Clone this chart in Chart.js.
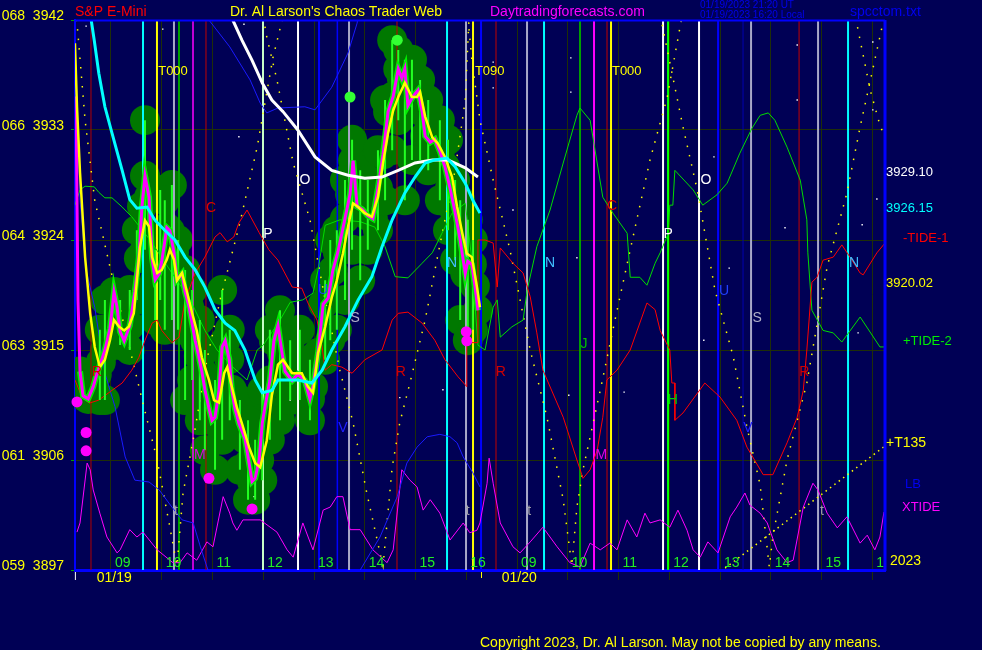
<!DOCTYPE html>
<html>
<head>
<meta charset="utf-8">
<title>S&amp;P E-Mini - Chaos Trader Web</title>
<script src="https://cdn.jsdelivr.net/npm/chart.js@4.4.1/dist/chart.umd.min.js"></script>
<style>
  html, body { margin: 0; padding: 0; background: #000055; }
  canvas { display: block; }
</style>
</head>
<body>
<canvas id="chart" width="982" height="650"></canvas>
<script>
// x values are session hours counted from 09:00 on 01/19 (8 = 09:00 on 01/20)
const hourLabels = ['09','10','11','12','13','14','15','16','09','10','11','12','13','14','15','16'];
const yTicks = [3897, 3906, 3915, 3924, 3933, 3942];
const yTicksAlt = ['059', '061', '063', '064', '066', '068'];

// raw E-mini price (5 min closes)
const closeSeries = [
  [-0.69,3935.75],[-0.67,3927.25],[-0.65,3919],[-0.61,3913.25],[-0.55,3911.25],[-0.45,3911],[-0.35,3912],[-0.28,3913],
  [-0.2,3914],[-0.12,3915],[-0.02,3916.75],[0.06,3919.75],[0.12,3918.5],[0.18,3916.5],[0.26,3915.75],[0.37,3917],
  [0.47,3919.75],[0.55,3922.5],[0.61,3926.75],[0.67,3929.25],[0.75,3927.5],[0.81,3922.5],[0.87,3920.75],[0.95,3921.25],
  [1.0,3922.25],[1.1,3925],[1.16,3924.75],[1.24,3923],[1.3,3920.75],[1.4,3921.25],[1.46,3919.75],[1.54,3918.5],
  [1.66,3915.75],[1.73,3914.5],[1.79,3913.25],[1.85,3911.75],[1.93,3910.25],[1.99,3909.25],[2.05,3909.5],[2.13,3911.75],
  [2.19,3915.25],[2.25,3915.75],[2.33,3914.25],[2.38,3911.75],[2.44,3910.25],[2.52,3909],[2.64,3907.75],[2.72,3905.75],
  [2.78,3904.25],[2.84,3904.5],[2.92,3906],[2.98,3909],[3.03,3910.25],[3.13,3912.5],[3.21,3915.75],[3.29,3917],
  [3.37,3914.75],[3.43,3913.25],[3.57,3912.5],[3.68,3913],[3.82,3912.5],[3.92,3911],[3.98,3912],[4.08,3914.75],
  [4.18,3918.75],[4.28,3919.25],[4.37,3921.5],[4.47,3923],[4.61,3925.75],[4.71,3927.75],[4.77,3930.5],[4.85,3926.75],
  [4.95,3926.5],[5.06,3926],[5.16,3925.75],[5.26,3928.25],[5.36,3931],[5.46,3934.5],[5.56,3935.75],[5.66,3938],
  [5.73,3937.25],[5.79,3938],[5.85,3935],[5.95,3935.75],[6.05,3936.25],[6.13,3934.5],[6.19,3932.5],[6.29,3932],
  [6.38,3932.25],[6.48,3931.25],[6.58,3930],[6.68,3928.25],[6.78,3926.25],[6.88,3924],[6.98,3921.25],[7.03,3922.25],
  [7.11,3922],[7.17,3920.25],[7.23,3918.25]
];

// bar ranges [time, low, high]
const barRanges = [
  [-0.22,3910.9,3916.65],[0.18,3915.4,3919.1],[0.51,3919.1,3924.8],[0.67,3923.2,3933.8],[0.97,3919.1,3928.1],
  [1.2,3917.45,3928.5],[1.46,3910.9,3921.55],[1.75,3909.25,3917.45],[2.19,3907.65,3919.9],[2.54,3905.2,3910.9],
  [2.84,3902.75,3907.65],[3.13,3907.65,3916.65],[3.72,3910.9,3916.65],[4.32,3915.8,3924],[4.61,3919.1,3928.9],
  [4.91,3920.7,3929.7],[5.4,3927.25,3935.45],[5.54,3931.35,3940.35],[5.79,3927.25,3938.75],[6.09,3930.55,3937.1],
  [6.48,3927.25,3933.8],[6.88,3917.45,3927.25],[7.13,3916.65,3924],
  [-0.12,3910.9,3919.1],[0.37,3915,3919.9],[0.87,3917.45,3923.2],[1.06,3916.65,3927.25],[1.32,3916.65,3924],
  [1.6,3912.55,3919.9],[1.85,3906.8,3915],[2.05,3905.2,3912.55],[2.34,3909.25,3916.65],[2.7,3902.75,3909.25],
  [2.98,3904.35,3911.7],[3.33,3909.25,3918.25],[3.53,3910.9,3915.8],[3.92,3909.25,3914.2],[4.22,3914.2,3920.7],
  [4.45,3916.65,3924.8],[4.75,3923.2,3932.2],[5.06,3923.2,3928.9],[5.26,3924.8,3931.35],[5.66,3933.8,3939.55],
  [5.93,3930.55,3938.75],[6.25,3929.7,3935.45],[6.64,3924.8,3932.2],[6.78,3922.35,3928.9],[7.03,3915.8,3925.65]
];

const fastAvg = [
  [-0.71,3940.1],[-0.67,3934.9],[-0.61,3929.5],[-0.51,3922.6],[-0.41,3918],[-0.32,3915.25],[-0.22,3913.6],[-0.12,3914.2],
  [-0.02,3915.8],[0.06,3917.45],[0.16,3916.9],[0.26,3916.6],[0.35,3916.9],[0.45,3918],[0.51,3920.7],[0.57,3923.4],
  [0.67,3925.6],[0.75,3925.1],[0.81,3922.6],[0.91,3921.3],[1.0,3921.55],[1.1,3922.4],[1.16,3923.2],[1.24,3922.4],
  [1.3,3920.7],[1.4,3921.3],[1.5,3919.7],[1.6,3918],[1.69,3916.6],[1.79,3914.4],[1.93,3912.55],[2.03,3910.9],
  [2.13,3910.7],[2.23,3913.1],[2.29,3913.6],[2.38,3912],[2.48,3910.3],[2.58,3909],[2.72,3907.05],[2.84,3905.75],
  [2.94,3905.4],[3.07,3907.6],[3.17,3911.3],[3.29,3913.8],[3.39,3914.2],[3.57,3913.1],[3.76,3913.1],[3.88,3912],
  [3.98,3911.5],[4.08,3914.75],[4.22,3916.9],[4.35,3919.3],[4.45,3920.7],[4.57,3922.9],[4.67,3925.1],[4.77,3927],
  [4.87,3926.7],[5.0,3926.2],[5.14,3925.9],[5.26,3927.5],[5.36,3930.3],[5.46,3932.75],[5.56,3934.6],[5.66,3935.7],
  [5.79,3936.85],[5.93,3935.7],[6.03,3935.7],[6.09,3936.1],[6.19,3934.1],[6.33,3932.4],[6.44,3931.9],[6.58,3930.8],
  [6.72,3929.15],[6.82,3926.7],[6.92,3924.6],[7.01,3922.9],[7.11,3922.6],[7.21,3920.15],[7.27,3918.5]
];

const midAvg = [
  [-0.39,3942],[-0.33,3940.35],[-0.24,3937.65],[-0.12,3934.9],[0.02,3932.75],[0.22,3929.7],[0.37,3927.3],[0.51,3926.6],
  [0.71,3926.7],[0.87,3925.6],[1.06,3924.8],[1.26,3924],[1.46,3922.6],[1.66,3921.55],[1.85,3920.15],[2.05,3918.3],
  [2.25,3917.2],[2.44,3916.6],[2.64,3915],[2.84,3912.55],[2.98,3911.5],[3.17,3911.7],[3.29,3912.55],[3.68,3912.55],
  [3.96,3912.3],[4.16,3913.35],[4.35,3915],[4.61,3916.9],[4.87,3919.1],[5.14,3921],[5.34,3923.45],[5.54,3925.65],
  [5.79,3927.85],[5.99,3929.15],[6.19,3930.3],[6.38,3930.55],[6.62,3930.7],[6.78,3930],[6.98,3928.65],[7.13,3927.25],
  [7.27,3926.2]
];

const slowAvg = [
  [2.31,3942.8],[2.4,3942],[2.58,3940.35],[2.78,3938.7],[2.98,3936.85],[3.17,3935.45],[3.39,3934.5],[3.68,3933],
  [4.02,3930.8],[4.35,3929.7],[4.67,3929.3],[5.0,3929.05],[5.34,3929.15],[5.66,3929.7],[5.99,3930.3],[6.33,3930.55],
  [6.64,3930.55],[6.98,3929.9],[7.23,3929.15]
];

const lbLine = [
  [-0.67,3935.45],[-0.61,3927.25],[-0.49,3921.55],[-0.32,3918.5],[-0.12,3913.1],[0.08,3910.35],[0.28,3906.25],[0.47,3904.35],
  [0.75,3904.2],[0.95,3903.55],[1.2,3902.15],[1.4,3901.1],[1.62,3900.85],[1.75,3899.05],[1.91,3897],[1.95,3895.4],
  [1.95,null],
  [1.89,3943.6],[1.93,3942],[2.34,3939.8],[2.74,3937.1],[2.94,3935.2],[3.07,3934.4],[3.29,3934.8],[3.82,3934.9],
  [4.02,3934.65],[4.35,3936.5],[4.67,3939.3],[4.85,3941.75],[4.89,3943.2],
  [4.89,null],
  [4.89,3895.4],[4.91,3897],[5.3,3899.7],[5.64,3903],[5.83,3905.75],[6.03,3907.05],[6.23,3907.9],[6.48,3908.1],
  [6.68,3907.9],[6.82,3907.4],[6.94,3906.25],[7.13,3904.95],[7.27,3903.8]
];

const tide1 = [
  [-0.71,3912.55],[-0.57,3911.15],[-0.43,3910.65],[-0.24,3910.9],[0.02,3911.7],[0.22,3912.3],[0.41,3913.35],[0.55,3914.4],
  [0.67,3915.8],[0.81,3917.2],[0.91,3917.45],[1.0,3916.6],[1.2,3915.6],[1.34,3916.05],[1.46,3919.1],[1.66,3921.3],
  [1.85,3922.6],[2.05,3924.25],[2.15,3924.6],[2.29,3923.85],[2.42,3924.25],[2.52,3925.4],[2.68,3926.45],[2.92,3924.6],
  [3.11,3923.2],[3.29,3922.35],[3.57,3920.15],[3.76,3920.05],[3.88,3918.85],[4.06,3917.45],[4.16,3915.25],[4.22,3913.35],
  [4.35,3913.8],[4.55,3913.6],[4.75,3913.1],[5.0,3914.2],[5.34,3915],[5.54,3917.45],[5.66,3918],[5.85,3918.1],
  [6.13,3917.2],[6.38,3915.8],[6.58,3914.2],[6.84,3912.8],[6.98,3912.15],[7.01,3912],[7.01,3915.6],[7.23,3915.6],
  [7.23,3924],[7.37,3924],[7.53,3923.75],[7.61,3920.15],[7.67,3923.35],[7.92,3922.1],[8.12,3921.3],[8.26,3919.35],
  [8.39,3916.4],[8.51,3913.35],[8.91,3909.5],[9.18,3906],[9.3,3904.5],[9.44,3905.2],[9.58,3906.8],[9.69,3909.5],
  [9.77,3912.55],[9.97,3913.35],[10.23,3915],[10.56,3918.85],[10.72,3918.3],[10.82,3916.6],[11.01,3915],[11.05,3912.3],
  [11.11,3912.3],[11.11,3909.25],[11.27,3909.85],[11.7,3912.3],[12.0,3911.15],[12.33,3909.25],[12.53,3907.05],[12.85,3904.8],
  [13.04,3904.8],[13.32,3907.4],[13.52,3909.5],[13.64,3911.7],[13.71,3915],[13.81,3920.55],[13.91,3920.95],[14.03,3922.35],
  [14.23,3922.6],[14.4,3923.6],[14.56,3922.6],[14.76,3921.3],[14.82,3921.15],[15.09,3922.95],[15.25,3923.75]
];

const tide2 = [
  [-0.71,3926.85],[-0.61,3928.1],[-0.51,3928.4],[-0.33,3928.35],[-0.24,3927.9],[-0.12,3927.45],[0.02,3927.45],[0.22,3926.7],
  [0.41,3925.9],[0.77,3924],[1.16,3921.55],[1.56,3919.1],[1.85,3916.6],[2.09,3915],[2.4,3913.6],[2.68,3912.55],
  [2.88,3915],[3.0,3915.4],[3.33,3917.45],[3.53,3918.9],[3.78,3919.1],[3.98,3919.65],[4.08,3921.55],[4.22,3925.2],
  [4.51,3925.65],[4.91,3925.5],[5.2,3925.05],[5.4,3923.45],[5.6,3921],[5.85,3920.9],[6.13,3922.1],[6.33,3922.95],
  [6.52,3924.55],[6.72,3926.2],[6.98,3927],[7.11,3922.35],[7.23,3915.4],[7.37,3915],[7.53,3918.5],[7.61,3919.1],
  [7.67,3916.05],[7.9,3916.9],[8.12,3917.45],[8.2,3919.9],[8.39,3923.45],[8.65,3926.45],[8.91,3930.3],[9.18,3934.2],
  [9.24,3934.8],[9.44,3933.8],[9.69,3927.5],[9.89,3926.2],[10.17,3924.55],[10.23,3920.95],[10.42,3920.95],[10.56,3920.3],
  [10.72,3922.1],[10.82,3922.95],[10.98,3924.55],[11.01,3926.85],[11.07,3926.85],[11.11,3929.7],[11.47,3928.1],[11.66,3926.85],
  [11.94,3927.7],[12.14,3928.65],[12.39,3931.1],[12.63,3933.15],[12.79,3934.2],[12.95,3934.4],[13.08,3933.8],[13.32,3931.6],
  [13.58,3928.9],[13.71,3925.65],[13.73,3922.95],[13.81,3918.25],[14.03,3916.6],[14.23,3916.4],[14.4,3915.65],[14.76,3917.7],
  [15.15,3915.25],[15.25,3915.25]
];

const xtide = [
  [-0.67,3900.1],[-0.61,3900.85],[-0.47,3905.75],[-0.41,3905.2],[-0.35,3903.55],[-0.22,3901.65],[-0.08,3899.7],[0.12,3898.4],
  [0.18,3898.65],[0.37,3900.3],[0.51,3899.7],[0.63,3900.1],[0.91,3898.65],[1.22,3897.6],[1.36,3897.6],[1.5,3898.4],
  [1.69,3897.8],[1.89,3899.3],[2.01,3898.9],[2.21,3903],[2.34,3901.65],[2.4,3900.85],[2.48,3900.25],[2.6,3901.1],
  [2.94,3901.1],[3.27,3900.1],[3.47,3898.65],[3.59,3898.05],[3.78,3900.85],[3.98,3898.65],[4.18,3901.9],[4.32,3902.15],
  [4.45,3903],[4.57,3903],[4.71,3900.3],[4.91,3900.3],[5.16,3898.65],[5.44,3897.6],[5.56,3898.65],[5.73,3905.2],
  [5.89,3904.35],[6.03,3903.8],[6.15,3901.9],[6.29,3902.75],[6.48,3901.65],[6.68,3899.45],[6.94,3900.85],[7.07,3900.05],
  [7.21,3900.25],[7.27,3900.85],[7.41,3904.1],[7.45,3906.15],[7.53,3904.1],[7.67,3900.85],[7.92,3898.9],[8.06,3898.4],
  [8.26,3899.3],[8.51,3900.5],[8.79,3898.9],[9.04,3897.6],[9.24,3897.25],[9.44,3899.2],[9.64,3898.65],[9.83,3899.2],
  [9.97,3898.65],[10.17,3901.1],[10.36,3899.7],[10.52,3901.65],[10.62,3900.85],[10.82,3901.1],[11.01,3900.5],[11.17,3901.9],
  [11.35,3900.25],[11.47,3898.65],[11.61,3898.05],[11.76,3899.3],[11.96,3898.4],[12.2,3901.35],[12.33,3902.15],[12.49,3903.3],
  [12.59,3902.3],[12.79,3901.65],[12.93,3900.85],[13.12,3898.65],[13.32,3897.6],[13.44,3897.8],[13.64,3902.15],[13.83,3904.1],
  [13.93,3903.55],[14.11,3901.65],[14.31,3900.45],[14.5,3901.35],[14.76,3899.2],[14.9,3899.85],[15.05,3898.65],[15.15,3899.7],
  [15.23,3901.75]
];

// time/price arcs shown as dotted yellow
const arcDots = [
  [-0.69,3942.8],[-0.51,3933.8],[-0.32,3927.25],[-0.02,3921.8],[0.28,3916.65],[0.63,3910.65],[0.91,3906],[1.16,3900.5],[1.3,3897.35],
  [1.42,3903.3],[1.62,3907.65],[1.89,3914.2],[2.15,3919.1],[2.54,3925.4],[2.88,3931.6],[3.19,3938.9],[3.47,3943.65],
  [2.94,3943.65],[3.07,3940.6],[3.27,3937.1],[3.59,3930.3],[3.92,3925.65],[4.22,3919.1],[4.51,3913.35],[4.77,3909.05],[5.04,3903.3],[5.3,3898.4],[5.36,3897.35],
  [5.54,3905.4],[5.69,3909.05],[5.89,3912.3],[6.19,3917.45],[6.48,3923.6],[6.78,3929.7],[6.98,3935.45],[7.07,3943.65],
  [7.0,3943.65],[7.11,3938.75],[7.27,3933.8],[7.53,3928.9],[7.86,3923.2],[8.26,3915],[8.59,3909.5],[8.91,3902.75],[9.08,3897.35],
  [9.18,3902.15],[9.3,3905.2],[9.64,3911.7],[9.93,3917.45],[10.23,3923.2],[10.62,3930.55],[10.96,3935.7],[11.31,3943.65],
  [10.76,3943.65],[10.98,3939.15],[11.27,3933.25],[11.55,3928.1],[11.9,3919.9],[12.26,3914.45],[12.53,3908.7],[12.79,3903.95],[12.97,3897.25],
  [13.04,3899.7],[13.32,3906],[13.71,3912.3],[14.11,3921.8],[14.5,3927.85],[14.76,3933.25],[15.05,3938.75],[15.31,3943.65],
  [14.6,3943.65],[14.76,3940.35],[14.96,3936.25],[15.15,3933.4],[15.35,3931.35]
];

const t135 = [[12.1,3897.15],[15.25,3907.15]];

const sparseDots = [
  [-0.49,3941.5],[1.02,3941.25],[2.62,3941.65],[2.52,3932.45],[7.53,3938.55],[7.53,3936.45],[9.06,3938.9],[9.06,3936.1],
  [13.52,3939.95],[13.52,3935.45],[15.01,3940.2],[15.01,3934.65],[11.88,3930.8],[12.18,3921.7],[11.68,3915.8],[13.28,3925],
  [14.8,3925.25],[15.09,3927.35],[14.72,3916.4],[7.92,3926.45],[9.18,3922.55],[9.02,3911.3],[10.11,3911.55],[6.54,3911.75],
  [5.69,3911.1],[3.53,3910.9],[2.82,3903]
];

const turnDots = [[-0.67,3910.75],[-0.49,3908.25],[-0.49,3906.75],[1.93,3904.5],[2.78,3902],[7.0,3916.5],[7.01,3915.75]];
const highDots = [[4.71,3935.7],[5.64,3940.35]];

// timing lines [time, colour, width]
const timeLines = [
  [-0.394,'#b00000',1],[0.631,'#00ffff',2],[0.906,'#ffff00',2],[1.241,'#a8a8c8',2],[1.34,'#00a000',2],[1.616,'#ff00ff',1.5],
  [1.872,'#c00000',1],[2.995,'#c8ffc8',2],[3.685,'#ffffff',2],[4.099,'#0000ff',2],[4.46,'#0000ff',1.5],[4.69,'#a8a8c8',2],
  [5.635,'#c00000',1],[6.621,'#00ffff',2],[6.995,'#a8a8c8',2],[7.133,'#ffff00',2],[7.291,'#0000ff',2],[7.586,'#c00000',1],
  [8.197,'#a8a8c8',2],[8.532,'#00ffff',2],[9.241,'#00a000',2],[9.517,'#ff00ff',2],[9.773,'#c00000',1],[9.852,'#ffff00',2],
  [10.877,'#ffffff',2],[10.975,'#00ff00',2],[11.586,'#ffffff',2],[11.961,'#0000ff',2],[12.453,'#0000b0',1],[12.611,'#a8a8c8',2],
  [13.557,'#c00000',1],[13.931,'#a8a8c8',2],[14.522,'#00ffff',2]
];

// letter marks [text, time, price, colour]
const marks = [
  ['T000',0.93,3937.8,'#ffff00'],['T090',7.17,3937.8,'#ffff00'],['T000',9.87,3937.8,'#ffff00'],
  ['C',1.97,3926.6,'#e00000'],['P',3.09,3924.5,'#ffffff'],['O',3.82,3928.9,'#ffffff'],['S',4.81,3917.6,'#b0b0c8'],
  ['U',4.18,3919.9,'#2040ff'],['N',6.72,3922.1,'#40c0ff'],['N',8.65,3922.1,'#40c0ff'],['R',-0.28,3913.2,'#d00000'],
  ['M',1.75,3906.4,'#e000e0'],['V',4.57,3908.6,'#2020ff'],['R',5.71,3913.2,'#d00000'],['R',7.68,3913.2,'#d00000'],
  ['t',1.28,3901.8,'#a0a0a8'],['t',7.03,3901.8,'#a0a0a8'],['t',8.24,3901.8,'#a0a0a8'],['t',14.01,3901.8,'#a0a0a8'],
  ['M',9.66,3906.4,'#e000e0'],['J',9.32,3915.5,'#00c000'],['C',9.87,3926.8,'#e00000'],['P',10.98,3924.5,'#ffffff'],
  ['O',11.72,3928.9,'#ffffff'],['U',12.08,3919.8,'#2040ff'],['S',12.73,3917.6,'#b0b0c8'],['N',14.64,3922.1,'#40c0ff'],
  ['H',11.07,3910.9,'#00d000'],['V',12.55,3908.6,'#2020ff'],['R',13.66,3913.2,'#d00000']
];

const lastValues = [['3929.10',3929.10,'#ffffff'],['3926.15',3926.15,'#00ffff'],['3920.02',3920.02,'#ffff00']];

const FONT = '"Liberation Sans", Arial, sans-serif';
const BG = '#000055';
const GRID = '#1e2e08';

function toPts(arr) {
  return arr.map(p => ({ x: p[0], y: p[1] }));
}

function lineSet(arr, color, width, order, extra) {
  return Object.assign({
    type: 'line', data: toPts(arr), borderColor: color, borderWidth: width,
    pointRadius: 0, tension: 0, fill: false, order: order
  }, extra || {});
}

const datasets = [];

// dark green cloud round the price, its highs and lows
const cloudPts = toPts(closeSeries.slice(3));
barRanges.forEach(b => { cloudPts.push({ x: b[0], y: b[1] }); cloudPts.push({ x: b[0], y: b[2] }); });
datasets.push({ type: 'scatter', data: cloudPts, backgroundColor: '#007800', borderColor: '#007800',
  pointRadius: 15, pointHoverRadius: 15, borderWidth: 0, order: 100 });

timeLines.forEach(t => {
  datasets.push(lineSet([[t[0], yTicks[0]], [t[0], yTicks[yTicks.length - 1]]], t[1], t[2], 90));
});

datasets.push(lineSet(arcDots, '#ffff00', 1.5, 85, { borderDash: [1.5, 8] }));
datasets.push(lineSet(t135, '#ffff00', 1.5, 85, { borderDash: [1.5, 4] }));
datasets.push({ type: 'scatter', data: toPts(sparseDots), backgroundColor: '#ffffff', pointStyle: 'rect',
  pointRadius: 1, pointHoverRadius: 1, borderWidth: 0, order: 85 });

datasets.push(lineSet(tide1, '#ff0000', 1, 80));
datasets.push(lineSet(tide2, '#00dd00', 1, 80));
datasets.push(lineSet(lbLine, '#1a1aff', 1, 80));
datasets.push(lineSet(xtide, '#ff00ff', 1, 80));

// bars as vertical strokes
const barPts = [];
barRanges.forEach(b => {
  barPts.push({ x: b[0], y: b[1] }, { x: b[0], y: b[2] }, { x: b[0], y: null });
});
datasets.push({ type: 'line', data: barPts, borderColor: '#22ff22', borderWidth: 2, pointRadius: 0, order: 70 });
datasets.push(lineSet(closeSeries.slice(3), '#00ee00', 6, 65));
datasets.push(lineSet(closeSeries, '#ff00ff', 3, 60));
datasets.push(lineSet(fastAvg, '#ffff00', 2.5, 50));
datasets.push(lineSet(midAvg, '#00ffff', 3, 45));
datasets.push(lineSet(slowAvg, '#ffffff', 3, 45));

datasets.push({ type: 'scatter', data: toPts(turnDots), backgroundColor: '#ff00ff', pointRadius: 5.5,
  borderWidth: 0, order: 20, clip: false });
datasets.push({ type: 'scatter', data: toPts(highDots), backgroundColor: '#33ff33', pointRadius: 5.5,
  borderWidth: 0, order: 20 });

function text(ctx, s, x, y, color, size, align) {
  ctx.fillStyle = color;
  ctx.font = size + 'px ' + FONT;
  ctx.textAlign = align || 'left';
  ctx.textBaseline = 'middle';
  ctx.fillText(s, x, y);
}

const backdrop = {
  id: 'backdrop',
  beforeDraw(chart) {
    const ctx = chart.ctx;
    ctx.save();
    ctx.fillStyle = BG;
    ctx.fillRect(0, 0, chart.width, chart.height);
    ctx.restore();
  }
};

const labels = {
  id: 'labels',
  afterDatasetsDraw(chart) {
    const ctx = chart.ctx, xs = chart.scales.x, ys = chart.scales.y, a = chart.chartArea;
    ctx.save();
    ctx.beginPath();
    ctx.rect(a.left, a.top, a.right - a.left, a.bottom - a.top);
    ctx.clip();
    marks.forEach(m => {
      const big = m[0].length > 1;
      text(ctx, m[0], xs.getPixelForValue(m[1]), ys.getPixelForValue(m[2]), m[3], big ? 13 : 14, big ? 'left' : 'center');
    });
    hourLabels.forEach((h, i) => {
      text(ctx, h, xs.getPixelForValue(i) + 4, a.bottom - 7, '#22ee22', 14);
    });
    ctx.restore();
  },
  afterDraw(chart) {
    const ctx = chart.ctx, xs = chart.scales.x, ys = chart.scales.y, a = chart.chartArea;
    ctx.save();
    // frame
    ctx.strokeStyle = '#0000ff';
    ctx.lineWidth = 2;
    ctx.beginPath();
    ctx.moveTo(a.left, a.top + 0.5); ctx.lineTo(a.right, a.top + 0.5);
    ctx.stroke();
    ctx.lineWidth = 3;
    ctx.beginPath();
    ctx.moveTo(a.right, a.top); ctx.lineTo(a.right, a.bottom + 1);
    ctx.stroke();

    // header
    text(ctx, 'S&P E-Mini', 75, 12, '#ff0000', 14);
    text(ctx, "Dr. Al Larson's Chaos Trader Web", 230, 12, '#ffff00', 14);
    text(ctx, 'Daytradingforecasts.com', 490, 12, '#ff00ff', 14);
    text(ctx, '01/19/2023 21:20 UT', 700, 5, '#0000ee', 10);
    text(ctx, '01/19/2023 16:20 Local', 700, 15, '#0000ee', 10);
    text(ctx, 'spcctom.txt', 850, 12, '#0000ee', 14);

    // right side
    lastValues.forEach(v => text(ctx, v[0], a.right + 1, ys.getPixelForValue(v[1]) - 5, v[2], 13));
    text(ctx, '-TIDE-1', a.right + 18, 238, '#ff0000', 13);
    text(ctx, '+TIDE-2', a.right + 18, 341, '#00ee00', 13);
    text(ctx, '+T135', a.right + 1, 443, '#ffff00', 14);
    text(ctx, 'LB', a.right + 20, 484, '#0000ee', 13);
    text(ctx, 'XTIDE', a.right + 17, 507, '#ff00ff', 13);
    text(ctx, '2023', a.right + 5, 561, '#ffff00', 14);

    // under the axis
    text(ctx, 'I', a.left - 1, 577, '#ffffff', 10);
    text(ctx, '01/19', xs.getPixelForValue(-0.28), 578, '#ffff00', 14);
    text(ctx, '01/20', xs.getPixelForValue(7.7), 578, '#ffff00', 14);
    ctx.strokeStyle = '#ffff00';
    ctx.lineWidth = 1;
    ctx.beginPath();
    const nowX = Math.round(xs.getPixelForValue(7.291)) + 0.5;
    ctx.moveTo(nowX, a.bottom + 2); ctx.lineTo(nowX, a.bottom + 8);
    ctx.stroke();

    text(ctx, 'Copyright 2023, Dr. Al Larson. May not be copied by any means.', 480, 643, '#ffff00', 14);
    ctx.restore();
  }
};

new Chart(document.getElementById('chart'), {
  type: 'scatter',
  data: { datasets: datasets },
  options: {
    responsive: false,
    animation: false,
    devicePixelRatio: 1,
    layout: { padding: { top: 20, right: 97, left: 0, bottom: 0 } },
    plugins: { legend: { display: false }, tooltip: { enabled: false } },
    events: [],
    scales: {
      x: {
        type: 'linear', min: -0.709, max: 15.25,
        afterBuildTicks: axis => { axis.ticks = hourLabels.map((h, i) => ({ value: i })); },
        afterFit: axis => { axis.height = 80; },
        ticks: { display: false },
        grid: { color: GRID, lineWidth: 1, tickLength: 10, tickColor: GRID },
        border: { color: '#0000ff', width: 3 }
      },
      y: {
        type: 'linear', min: yTicks[0], max: yTicks[yTicks.length - 1],
        afterBuildTicks: axis => { axis.ticks = yTicks.map(v => ({ value: v })); },
        afterFit: axis => { axis.width = 75; },
        ticks: {
          color: '#ffff00', font: { family: FONT, size: 14 }, padding: 7, labelOffset: -4,
          callback: (v) => yTicksAlt[yTicks.indexOf(v)] + '  ' + v
        },
        grid: { color: GRID, lineWidth: 1, tickLength: 4, tickColor: '#00a000' },
        border: { color: '#0000ff', width: 2 }
      }
    }
  },
  plugins: [backdrop, labels]
});
</script>
</body>
</html>
